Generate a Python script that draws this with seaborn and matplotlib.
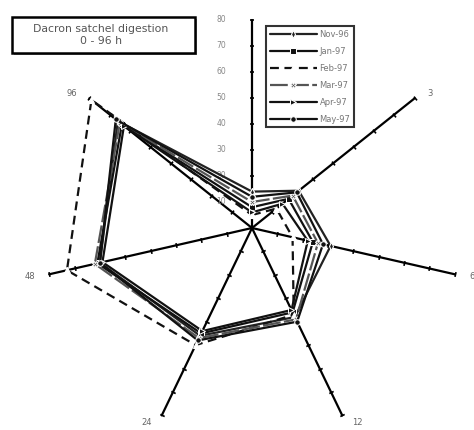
import numpy as np
import pandas as pd
import seaborn as sns
import matplotlib.pyplot as plt
from matplotlib.markers import MarkerStyle
from matplotlib.transforms import Affine2D
from matplotlib.patches import Rectangle

# digestion time (h) for each spoke, clockwise from top
spokes = ['0', '3', '6', '12', '24', '48', '96']
months = ['Nov-96', 'Jan-97', 'Feb-97', 'Mar-97', 'Apr-97', 'May-97']

nov96 = [14, 23, 31, 38, 46, 60, 66]
jan97 = [8, 18, 24, 36, 45, 61, 64]
feb97 = [5, 12, 16, 37, 50, 73, 79]
mar97 = [10, 20, 26, 39, 47, 62, 65]
apr97 = [6, 15, 22, 35, 44, 59, 63]
may97 = [12, 22, 28, 40, 48, 60, 67]
series = [nov96, jan97, feb97, mar97, apr97, may97]

tick_vals = [10, 20, 30, 40, 50, 60, 70, 80]
r_max = 80

sns.set_style('white')
plt.rcParams['font.family'] = ['DejaVu Sans']

angles = np.arange(len(spokes)) * 2 * np.pi / len(spokes)

# long table, each polygon closed by repeating its first point
rows = []
for m, vals in zip(months, series):
    for k in list(range(len(spokes))) + [0]:
        rows.append({'month': m, 'x': vals[k] * np.sin(angles[k]),
                     'y': vals[k] * np.cos(angles[k])})
df = pd.DataFrame(rows)

fig = plt.figure(figsize=(4.74, 4.30), dpi=100)
ax = fig.add_axes([0, 0, 1, 1])
scale = 2.6
ax.set_xlim(-252 / scale, (474 - 252) / scale)
ax.set_ylim(-(430 - 228) / scale, 228 / scale)
ax.axis('off')

# spokes with tick marks every 10
for a in angles:
    ax.plot([0, r_max * np.sin(a)], [0, r_max * np.cos(a)], color='black', lw=1.6, zorder=1)
    phi = 90 - np.degrees(a)
    mk = MarkerStyle('|', transform=Affine2D().rotate_deg(phi))
    tx = [t * np.sin(a) for t in tick_vals]
    ty = [t * np.cos(a) for t in tick_vals]
    ax.scatter(tx, ty, marker=mk, s=12, color='black', linewidths=1.2, zorder=1)

for lab, a in zip(spokes[1:], angles[1:]):
    sx = np.sin(a)
    ax.text(83 * sx + 2.5 * np.sign(sx), 83 * np.cos(a), lab, fontsize=6,
            color='#666', ha='left' if sx > 0 else 'right', va='center')

for t in tick_vals:
    ax.text(-10, t, str(t), fontsize=5.5, color='#888', ha='right', va='center')

palette = {'Nov-96': '#222', 'Jan-97': '#111', 'Feb-97': '#111',
           'Mar-97': '#555', 'Apr-97': '#111', 'May-97': '#111'}
markers = {'Nov-96': 'd', 'Jan-97': 's', 'Feb-97': '^',
           'Mar-97': 'X', 'Apr-97': '>', 'May-97': 'o'}
dashes = {'Nov-96': '', 'Jan-97': '', 'Feb-97': (4, 2.5),
          'Mar-97': (8, 1.5), 'Apr-97': '', 'May-97': ''}

sns.lineplot(data=df, x='x', y='y', hue='month', style='month', sort=False,
             estimator=None, palette=palette, markers=markers, dashes=dashes,
             linewidth=1.6, markersize=4, ax=ax, zorder=3)

# open triangle for Feb-97
for line in ax.get_lines():
    if line.get_marker() == '^':
        line.set_markerfacecolor('white')

leg = ax.legend(loc='upper left', bbox_to_anchor=(262 / 474, 1 - 22 / 430),
                bbox_transform=fig.transFigure, fontsize=6, handlelength=5.6,
                fancybox=False, edgecolor='#333', framealpha=1,
                borderpad=0.45, labelspacing=0.95, handletextpad=0.35)
leg.get_frame().set_linewidth(1.5)
for txt in leg.get_texts():
    txt.set_color('#777')
for h in leg.legend_handles:
    if h.get_marker() == '^':
        h.set_markerfacecolor('white')

# title box with a small shadow
fig.patches.append(Rectangle((14 / 474, 1 - 55 / 430), 183 / 474, 36 / 430,
                             transform=fig.transFigure, facecolor='#999',
                             edgecolor='none', zorder=0))
fig.patches.append(Rectangle((12 / 474, 1 - 53 / 430), 183 / 474, 36 / 430,
                             transform=fig.transFigure, facecolor='white',
                             edgecolor='black', lw=1.8, zorder=1))
fig.text(101 / 474, 1 - 35 / 430, 'Dacron satchel digestion\n0 - 96 h',
         fontsize=7.8, color='#555', ha='center', va='center', linespacing=1.25)

fig.savefig('out.png', dpi=100)
